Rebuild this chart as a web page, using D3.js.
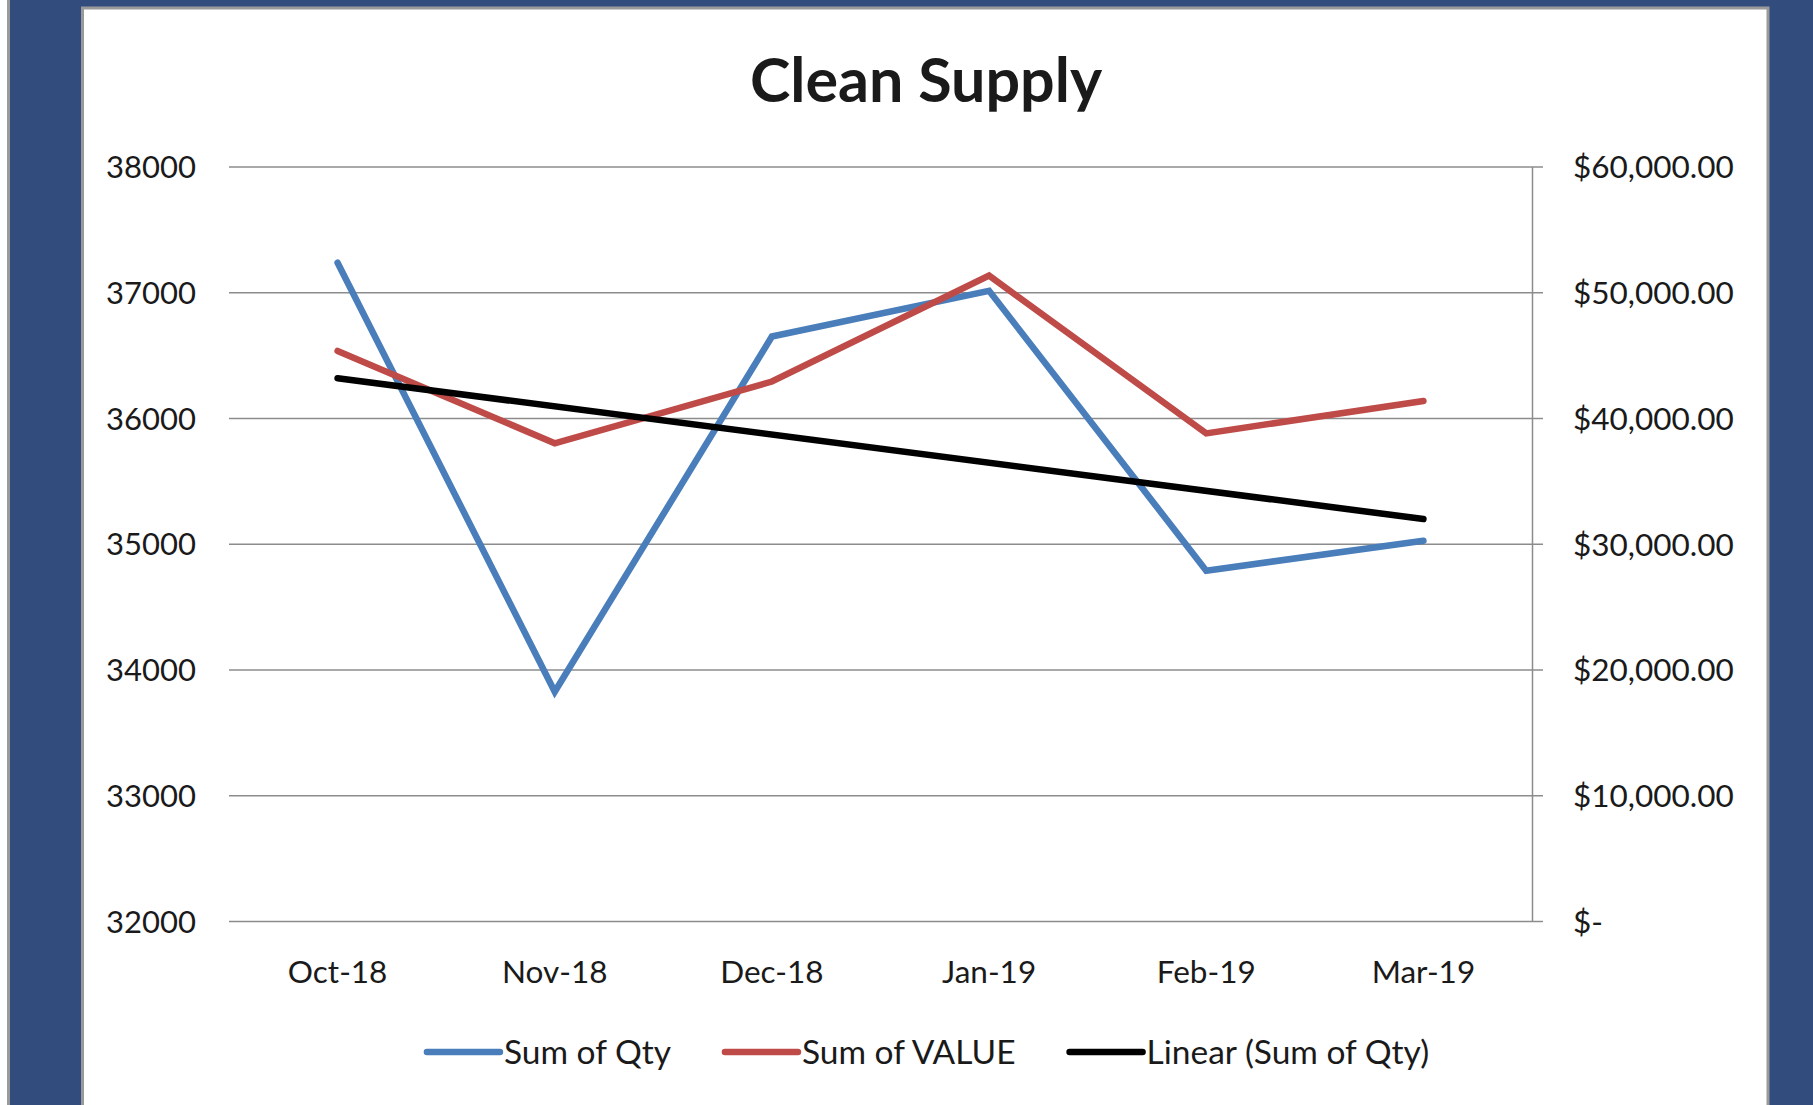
<!DOCTYPE html>
<html>
<head>
<meta charset="utf-8">
<script src="https://cdn.jsdelivr.net/npm/d3@7"></script>
<style>
  html, body { margin: 0; padding: 0; background: #fff; }
  svg { display: block; }
  text { font-family: Lato, "Open Sans", sans-serif; fill: #1a1a1a; }
</style>
</head>
<body>
<div id="chart"></div>
<script>
// --- data ---
const months   = ["Oct-18", "Nov-18", "Dec-18", "Jan-19", "Feb-19", "Mar-19"];
const sumQty   = [37235, 33823, 36648, 37012, 34786, 35024];
const sumValue = [45330, 37990, 42900, 51320, 38780, 41350];
// linear trend of Sum of Qty, its two ends as drawn (first and last month)
const trendQty = [36316, 35197];

const qtyTicks   = [32000, 33000, 34000, 35000, 36000, 37000, 38000];
const valueTicks = [0, 10000, 20000, 30000, 40000, 50000, 60000];

const W = 1813, H = 1105;
const plot = { left: 229, right: 1532, top: 166.5, bottom: 921 };
const COLORS = { qty: "#4A7EBB", value: "#BE4B48", trend: "#000000", grid: "#8c8c8c" };

const svg = d3.select("#chart").append("svg")
    .attr("width", W).attr("height", H)
    .attr("viewBox", `0 0 ${W} ${H}`);

// window frame: dark blue backdrop, grey-edged white chart sheet
svg.append("rect").attr("width", W).attr("height", H).attr("fill", "#fff");
svg.append("rect")
    .attr("x", 8.5).attr("y", -10).attr("width", W).attr("height", H + 20)
    .attr("fill", "#324C7D").attr("stroke", "#9a9a9a").attr("stroke-width", 3);
svg.append("rect")
    .attr("x", 82.5).attr("y", 8).attr("width", 1768 - 82.5).attr("height", H)
    .attr("fill", "#fff").attr("stroke", "#9a9a9a").attr("stroke-width", 3);

// scales
const x = d3.scaleBand().domain(months).range([plot.left, plot.right]);
const cx = m => x(m) + x.bandwidth() / 2;
const yL = d3.scaleLinear().domain([32000, 38000]).range([plot.bottom, plot.top]);
const yR = d3.scaleLinear().domain([0, 60000]).range([plot.bottom, plot.top]);

// left axis: labels + horizontal gridlines
const leftAxis = svg.append("g")
    .attr("transform", `translate(${plot.left},0)`)
    .call(d3.axisLeft(yL).tickValues(qtyTicks).tickFormat(d3.format("d"))
        .tickSize(-(plot.right - plot.left)).tickPadding(33));
leftAxis.select(".domain").remove();
leftAxis.selectAll(".tick line").attr("stroke", COLORS.grid).attr("stroke-width", 1.5);
leftAxis.selectAll(".tick text")
    .style("font-size", "31px").attr("dy", "0.36em").attr("fill", "#1a1a1a");

// right axis: vertical line, outward ticks, currency labels
const money = d => d === 0 ? "$-" : "$" + d3.format(",.2f")(d);
const rightAxis = svg.append("g")
    .attr("transform", `translate(${plot.right},0)`)
    .call(d3.axisRight(yR).tickValues(valueTicks).tickFormat(money)
        .tickSize(11).tickSizeOuter(0).tickPadding(30));
rightAxis.select(".domain").attr("stroke", COLORS.grid).attr("stroke-width", 1.5);
rightAxis.selectAll(".tick line").attr("stroke", COLORS.grid).attr("stroke-width", 1.5);
rightAxis.selectAll(".tick text")
    .style("font-size", "31.5px").attr("dy", "0.36em").attr("fill", "#1a1a1a");

// category axis: labels only
const bottomAxis = svg.append("g")
    .attr("transform", `translate(0,${plot.bottom})`)
    .call(d3.axisBottom(x).tickSize(0).tickPadding(39));
bottomAxis.select(".domain").remove();
bottomAxis.selectAll(".tick text")
    .style("font-size", "31.5px").attr("dy", "0.72em").attr("fill", "#1a1a1a");

// series
const lineL = d3.line().x(d => cx(d.m)).y(d => yL(d.v));
const lineR = d3.line().x(d => cx(d.m)).y(d => yR(d.v));
const qtyPts   = months.map((m, i) => ({ m, v: sumQty[i] }));
const valuePts = months.map((m, i) => ({ m, v: sumValue[i] }));
const trendPts = [{ m: months[0], v: trendQty[0] }, { m: months[months.length - 1], v: trendQty[1] }];

const series = [
    { pts: qtyPts,   gen: lineL, color: COLORS.qty },
    { pts: valuePts, gen: lineR, color: COLORS.value },
    { pts: trendPts, gen: lineL, color: COLORS.trend }
];
svg.append("g").selectAll("path").data(series).join("path")
    .attr("d", s => s.gen(s.pts))
    .attr("fill", "none").attr("stroke", s => s.color)
    .attr("stroke-width", 6.5)
    .attr("stroke-linecap", "round").attr("stroke-linejoin", "miter");

// title
svg.append("text")
    .attr("x", 926).attr("y", 102)
    .attr("text-anchor", "middle")
    .style("font-size", "61px").style("font-weight", "bold")
    .attr("fill", "#000")
    .text("Clean Supply");

// legend, centred under the plot
const legendItems = [
    { label: "Sum of Qty", color: COLORS.qty },
    { label: "Sum of VALUE", color: COLORS.value },
    { label: "Linear (Sum of Qty)", color: COLORS.trend }
];
const legend = svg.append("g");
const SW = 73, GAP = 4, ITEM_GAP = 54, LY = 1052;
const items = legend.selectAll("g").data(legendItems).join("g");
items.append("line")
    .attr("x1", 0).attr("x2", SW).attr("y1", 0).attr("y2", 0)
    .attr("stroke", d => d.color).attr("stroke-width", 6.5)
    .attr("stroke-linecap", "round");
items.append("text")
    .attr("x", SW + GAP).attr("y", 0).attr("dy", "0.36em")
    .style("font-size", "33.5px").attr("fill", "#1a1a1a")
    .text(d => d.label);
let off = 0;
const offsets = [];
items.each(function () {
    offsets.push(off);
    off += SW + GAP + d3.select(this).select("text").node().getComputedTextLength() + ITEM_GAP;
});
const total = off - ITEM_GAP;
items.attr("transform", (d, i) => `translate(${928 - total / 2 + offsets[i]},${LY})`);
</script>
</body>
</html>
